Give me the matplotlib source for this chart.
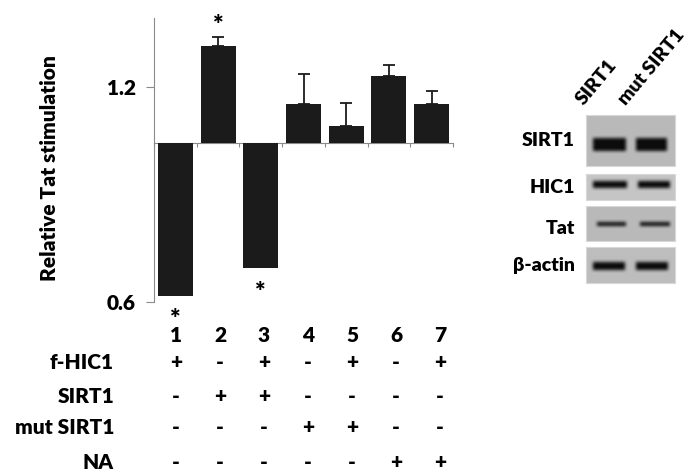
import matplotlib
matplotlib.use("Agg")
import matplotlib.pyplot as plt
import numpy as np

plt.rcParams['font.family'] = ['Lato', 'DejaVu Sans']
WT = 'heavy'

# data
lanes = ['1', '2', '3', '4', '5', '6', '7']
values = [0.617, 1.314, 0.694, 1.152, 1.089, 1.229, 1.152]
errors = [0.0, 0.023, 0.0, 0.083, 0.064, 0.031, 0.036]
significant = [True, True, True, False, False, False, False]
baseline = 1.042

row_labels = ['f-HIC1', 'SIRT1', 'mut SIRT1', 'NA']
f_hic1 = ['+', '-', '+', '-', '+', '-', '+']
sirt1 = ['-', '+', '+', '-', '-', '-', '-']
mut_sirt1 = ['-', '-', '-', '+', '+', '-', '-']
na = ['-', '-', '-', '-', '-', '+', '+']

blot_lanes = ['SIRT1', 'mut SIRT1']
blot_rows = ['SIRT1', 'HIC1', 'Tat', 'β-actin']

W, H = 687, 473
fig = plt.figure(figsize=(W / 100, H / 100), dpi=100)

def fx(px):
    return px / W

def fy(py):
    return 1 - py / H

ax = fig.add_axes([fx(154), fy(302), fx(299), (302 - 18) / H])
x = np.arange(len(values))
heights = [v - baseline for v in values]
ax.bar(x, heights, bottom=baseline, width=0.82, color='#1b1b1b', zorder=3)

# error bars only on the outward side
for i, (v, e) in enumerate(zip(values, errors)):
    if e <= 0:
        continue
    sign = 1 if v > baseline else -1
    ax.errorbar(i, v, yerr=[[0], [e]] if sign > 0 else [[e], [0]], fmt='none',
                ecolor='#1b1b1b', elinewidth=1.3, capsize=4, capthick=1.3, zorder=2)

# significance stars
for i, (v, e, s) in enumerate(zip(values, errors, significant)):
    if not s:
        continue
    if v > baseline:
        ax.annotate('*', (i, v + e), xytext=(0, 1), textcoords='offset points',
                    ha='center', va='bottom', fontsize=18, fontweight=WT,
                    annotation_clip=False)
    else:
        ax.annotate('*', (i, v), xytext=(0, -9), textcoords='offset points',
                    ha='center', va='top', fontsize=18, fontweight=WT,
                    annotation_clip=False)

ax.set_xlim(-0.5, len(values) - 0.5)
ax.set_ylim(0.6, 1.391)
ax.spines['top'].set_visible(False)
ax.spines['right'].set_visible(False)
ax.spines['bottom'].set_position(('data', baseline))
ax.spines['bottom'].set_color('#8a8a8a')
ax.spines['left'].set_color('#8a8a8a')
ax.spines['left'].set_bounds(0.6, 1.391)
ax.set_xticks(np.arange(-0.5, len(values), 1.0))
ax.set_xticklabels([])
ax.tick_params(axis='x', direction='out', length=3, color='#8a8a8a')
ax.set_yticks([0.6, 1.2])
ax.set_yticklabels(['0.6', '1.2'], fontsize=15, fontweight=WT)
ax.tick_params(axis='y', direction='out', length=6, color='#8a8a8a', pad=7)

fig.text(fx(50), fy(168), 'Relative Tat stimulation', rotation=90,
         ha='center', va='center', fontsize=15, fontweight=WT)

# condition table under the bars
col_x = [176 + 44 * i for i in range(len(lanes))]
for cx, lab in zip(col_x, lanes):
    fig.text(fx(cx), fy(335), lab, ha='center', va='center', fontsize=15, fontweight=WT)
row_y = [362, 396, 427, 462]
for ry, name, marks in zip(row_y, row_labels, [f_hic1, sirt1, mut_sirt1, na]):
    fig.text(fx(114), fy(ry), name, ha='right', va='center', fontsize=15, fontweight=WT)
    for cx, m in zip(col_x, marks):
        fig.text(fx(cx), fy(ry), m, ha='center', va='center', fontsize=15, fontweight=WT)

# western blot panel, drawn as soft blurred bands
bx = fig.add_axes([0, 0, 1, 1])
bx.axis('off')
bx.patch.set_alpha(0)

def blur(img, k):
    ker = np.ones(k) / k
    for _ in range(2):
        img = np.apply_along_axis(lambda r: np.convolve(r, ker, mode='same'), 1, img)
        img = np.apply_along_axis(lambda c: np.convolve(c, ker, mode='same'), 0, img)
    return img

# (top, bottom, band centre, band thickness, background grey, lane spans)
panels = [(115, 166, 144, 13, 0.73, [(592, 625), (635, 666)]),
          (174, 200, 184, 7, 0.77, [(592, 626), (637, 669)]),
          (206, 241, 223, 4, 0.73, [(596, 625), (639, 669)]),
          (247, 283, 265, 8, 0.74, [(592, 624), (635, 667)])]
left, right = 586, 675
for (top, bot, cy, th, bg, spans), name in zip(panels, blot_rows):
    ny, nx = bot - top, right - left
    img = np.full((ny + 12, nx + 12), bg)
    for lx0, lx1 in spans:
        r0 = int(cy - th / 2 - top) + 6
        r1 = int(cy + th / 2 - top) + 6
        img[r0:r1, lx0 - left + 6:lx1 - left + 6] = 0.05
    img = blur(img, 4)[6:-6, 6:-6]
    bx.imshow(img, cmap='gray', vmin=0, vmax=1, extent=(left, right, bot, top),
              interpolation='bilinear', aspect='auto')
    bx.plot([left, right, right, left, left], [top, top, bot, bot, top],
            color='#d8d8d8', lw=0.8)
    fig.text(fx(575), fy((top + bot) / 2 + (0 if name != 'Tat' else 5)), name,
             ha='right', va='center', fontsize=14, fontweight=WT)
bx.set_xlim(0, W)
bx.set_ylim(H, 0)

fig.text(fx(586), fy(108), blot_lanes[0], rotation=50, ha='left', va='bottom',
         fontsize=14, fontweight=WT, rotation_mode='anchor')
fig.text(fx(628), fy(108), blot_lanes[1], rotation=50, ha='left', va='bottom',
         fontsize=14, fontweight=WT, rotation_mode='anchor')

fig.savefig('out.png', dpi=100)
